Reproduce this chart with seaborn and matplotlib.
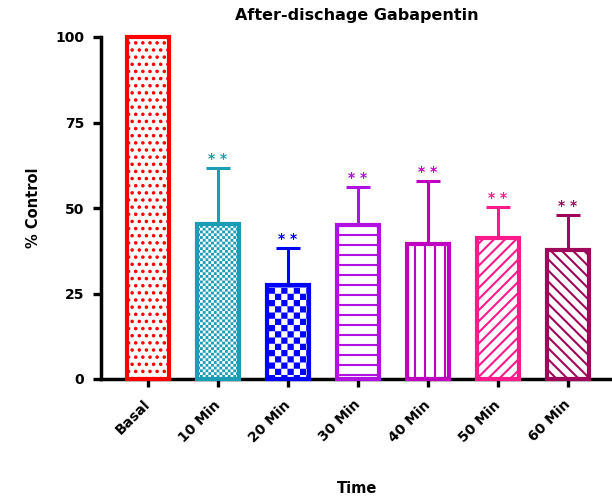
import numpy as np
import pandas as pd
import matplotlib
matplotlib.use("Agg")
import matplotlib.pyplot as plt
import seaborn as sns
from matplotlib import hatch as mhatch
from matplotlib.path import Path

# ---------------- data ----------------
categories = ["Basal", "10 Min", "20 Min", "30 Min", "40 Min", "50 Min", "60 Min"]
means = [100.0, 45.3, 27.5, 45.0, 39.5, 41.2, 37.7]
err_upper = [0.0, 16.4, 10.8, 11.1, 18.4, 9.1, 10.3]
stars = ["", "* *", "* *", "* *", "* *", "* *", "* *"]
yticks = [0, 25, 50, 75, 100]
title = "After-dischage Gabapentin"
xlabel = "Time"
ylabel = "% Control"

colors = ["#FF0000", "#1B9DB5", "#0000FF", "#B010E0", "#C000C0", "#FF1A8C", "#A0065A"]
hatches = ["..", "oooooo", "OO", "-", "|", "///", "\\\\\\"]

# ------------- custom hatches -------------
DPI = 100
HATCH_LW = 1.5


class CheckerHatch(mhatch.HatchPatternBase):
    """'o' = fine checkerboard, 'O' = coarse checkerboard."""
    def __init__(self, hatch, density):
        n = 6 * hatch.count("o") + 8 * hatch.count("O")
        self.n = n
        self.num_vertices = (n * n // 2) * 5 if n else 0

    def set_vertices_and_codes(self, vertices, codes):
        n = self.n
        s = 1.0 / n
        inset = (HATCH_LW / 72.0 * DPI) / DPI / 2.0
        a, b = inset, s - inset
        if b <= a:
            a = b = s / 2
        sq = np.array([[a, a], [b, a], [b, b], [a, b], [a, a]])
        cds = [Path.MOVETO, Path.LINETO, Path.LINETO, Path.LINETO, Path.CLOSEPOLY]
        k = 0
        for i in range(n):
            for j in range(n):
                if (i + j) % 2 == 0:
                    vertices[k * 5:(k + 1) * 5] = sq + [i * s, j * s]
                    codes[k * 5:(k + 1) * 5] = cds
                    k += 1


class TinyDots(mhatch.Shapes):
    filled = True
    size = 0.1

    def __init__(self, hatch, density):
        self.num_rows = 7 * hatch.count(".")
        path = Path.unit_circle()
        self.shape_vertices = path.vertices
        self.shape_codes = path.codes
        super().__init__(hatch, density)


class HLines(mhatch.HorizontalHatch):
    def __init__(self, hatch, density):
        self.num_lines = 10 * hatch.count("-")
        self.num_vertices = self.num_lines * 2 if self.num_lines else 0


class VLines(mhatch.VerticalHatch):
    def __init__(self, hatch, density):
        self.num_lines = 10 * hatch.count("|")
        self.num_vertices = self.num_lines * 2 if self.num_lines else 0


mhatch._hatch_types[:] = [mhatch.NorthEastHatch, mhatch.SouthEastHatch,
                          HLines, VLines, TinyDots, CheckerHatch]

# ---------------- figure ----------------
sns.set_style("white")
plt.rcParams["font.family"] = ["DejaVu Sans"]
plt.rcParams["hatch.linewidth"] = HATCH_LW
for k in ["text.color", "axes.labelcolor", "xtick.color", "ytick.color"]:
    plt.rcParams[k] = "black"

fig = plt.figure(figsize=(6.12, 4.97), dpi=DPI)
ax = fig.add_axes([101 / 612, 1 - 379 / 497, 511 / 612, 342 / 497])

df = pd.DataFrame({"Time": categories, "Value": means})
sns.barplot(data=df, x="Time", y="Value", hue="Time", palette=colors,
            order=categories, hue_order=categories, legend=False,
            errorbar=None, width=0.6, ax=ax)

for patch, c, h in zip(ax.patches, colors, hatches):
    patch.set_facecolor("white")
    patch.set_edgecolor(c)
    patch.set_linewidth(3)
    patch.set_hatch(h)
    patch.set_clip_on(False)
    patch.set_zorder(3)

for i, (m, e, c, s) in enumerate(zip(means, err_upper, colors, stars)):
    if e > 0:
        ax.errorbar(i, m, yerr=[[0], [e]], fmt="none", ecolor=c,
                    elinewidth=2.2, capsize=8.5, capthick=2.2, zorder=2)
    if s:
        ax.text(i, m + e + 1.4, s, color=c, ha="center", va="baseline",
                fontsize=10, fontweight="bold")

ax.set_xlim(-0.671, 6.629)
ax.set_ylim(0, 100)
ax.set_yticks(yticks)
ax.set_yticklabels([str(t) for t in yticks], fontsize=10, fontweight="bold")
ax.set_xticks(range(len(categories)))
ax.set_xticklabels(categories, fontsize=10, fontweight="bold",
                   rotation=45, ha="right", va="center", rotation_mode="anchor")

for side in ["top", "right"]:
    ax.spines[side].set_visible(False)
for side in ["left", "bottom"]:
    ax.spines[side].set_linewidth(2.5)
    ax.spines[side].set_color("black")

ax.tick_params(axis="both", which="major", direction="out", length=6,
               width=2.4, color="black", labelcolor="black", left=True, bottom=True)
ax.tick_params(axis="y", pad=6)
ax.tick_params(axis="x", pad=11)

ax.set_title(title, fontsize=11.5, fontweight="bold", pad=12, color="black")
ax.set_xlabel(xlabel, fontsize=10.5, fontweight="bold", color="black")
ax.xaxis.set_label_coords(0.501, -0.298)
ax.set_ylabel(ylabel, fontsize=10.5, fontweight="bold", color="black")
ax.yaxis.set_label_coords(-0.118, 0.5)

fig.savefig("out.png", dpi=DPI)
